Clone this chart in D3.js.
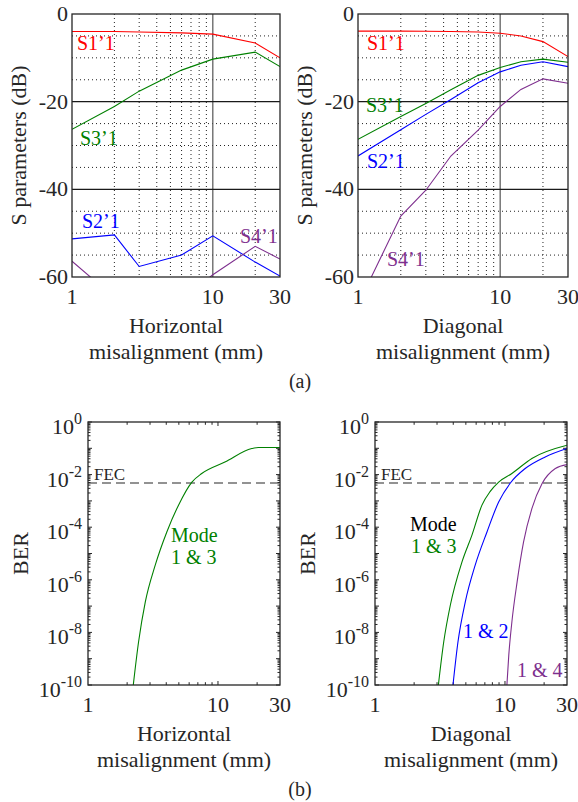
<!DOCTYPE html>
<html lang="en">
<head>
<meta charset="UTF-8">
<title>S parameters and BER vs misalignment</title>
<style>
    body { margin: 0; background: #fff; }
    svg { display: block; }
    text { font-family: "Liberation Serif", "Times New Roman", serif; fill: #262626; }
</style>
</head>
<body>
<svg id="chart" width="578" height="802"></svg>
<script src="https://cdnjs.cloudflare.com/ajax/libs/d3/7.9.0/d3.min.js"></script>
<script>
    // --- data ---
    // (a) S parameters, horizontal misalignment
    const xHoriz = [1, 2, 3, 6, 10, 20, 30];
    const s11Horiz = [-4.0, -4.0, -4.1, -4.3, -4.6, -6.6, -10.0];
    const s31Horiz = [-26.3, -21.1, -17.6, -12.8, -10.3, -8.7, -12.0];
    const s21Horiz = [-51.3, -50.4, -57.6, -55.0, -50.6, -56.6, -59.8];
    const s41Horiz = [-56.4, -64.7, -66.0, -65.0, -59.5, -53.0, -55.9];

    // (a) S parameters, diagonal misalignment
    const xDiag = [1, 2, 3, 4.5, 7, 10, 14, 20, 30];
    const s11Diag = [-3.9, -3.9, -3.95, -4.0, -4.1, -4.4, -5.0, -6.3, -9.7];
    const s31Diag = [-28.6, -23.4, -20.4, -17.3, -14.0, -12.2, -10.9, -10.3, -11.0];
    const s21Diag = [-32.4, -26.4, -22.9, -19.5, -15.7, -13.2, -11.7, -10.9, -12.0];
    const s41Diag = [-66.3, -46.1, -40.2, -32.4, -26.5, -21.1, -17.2, -14.8, -15.8];

    // (b) BER, horizontal misalignment (mode 1 & 3)
    const berHorizX = [2.2, 2.45, 2.76, 3.29, 4.04, 4.97, 6.3, 7.5, 11.3, 18.2, 20.4, 30];
    const berHoriz13 = [5.5e-11, 4.4e-9, 1.45e-7, 3.6e-6, 6.6e-5, 6.9e-4, 5.2e-3, 1.1e-2, 3.0e-2, 9.8e-2, 0.107, 0.107];

    // (b) BER, diagonal misalignment
    const berDiag13X = [3.03, 3.38, 3.8, 4.67, 5.57, 6.65, 7.7, 8.94, 11.3, 16.1, 30];
    const berDiag13 = [5.4e-11, 4.4e-9, 1.1e-7, 4.8e-6, 5.0e-5, 6.9e-4, 2.3e-3, 5.2e-3, 1.1e-2, 4.1e-2, 0.13];
    const berDiag12X = [3.93, 4.35, 4.95, 5.9, 7.27, 8.94, 11, 14.3, 20.4, 30];
    const berDiag12 = [5.5e-11, 4.4e-9, 1.45e-7, 3.6e-6, 6.6e-5, 9.1e-4, 4.8e-3, 1.7e-2, 4.7e-2, 9.8e-2];
    const berDiag14X = [10.3, 10.7, 11.3, 12.4, 13.9, 16.1, 19.3, 24.4, 30];
    const berDiag14 = [7e-11, 1.4e-9, 2.5e-8, 8.3e-7, 2.75e-5, 5.1e-4, 4.6e-3, 1.7e-2, 2.4e-2];

    const fecLimit = 4.8e-3;

    const xTicks = [1, 10, 30];
    const xMinor = [2, 3, 4, 5, 6, 7, 8, 9, 20];
    const dbTicks = [0, -20, -40, -60];
    const dbMinor = [-5, -10, -15, -25, -30, -35, -45, -50, -55];
    const berTicks = [1, 1e-2, 1e-4, 1e-6, 1e-8, 1e-10];

    const RED = "#ff0000", GREEN = "#008000", BLUE = "#0000ff", PURPLE = "#7e2f8e";
    const FONT = 22;

    const svg = d3.select("#chart");
    let clipId = 0;

    function makeFrame(box) {
        const g = svg.append("g");
        const x = d3.scaleLog().domain([1, 30]).range([box.left, box.right]);
        const id = "clip" + (clipId++);
        svg.append("clipPath").attr("id", id)
            .append("rect")
            .attr("x", box.left).attr("y", box.top)
            .attr("width", box.right - box.left).attr("height", box.bottom - box.top);
        return { g, x, clip: "url(#" + id + ")" };
    }

    function xLabels(g, x, box, title) {
        g.selectAll(".xt").data(xTicks).enter().append("text")
            .attr("x", d => x(d)).attr("y", box.bottom + 27)
            .attr("text-anchor", "middle").attr("font-size", FONT)
            .text(d => d);
        g.append("text").attr("x", (box.left + box.right) / 2).attr("y", box.bottom + 56)
            .attr("text-anchor", "middle").attr("font-size", FONT).text(title);
        g.append("text").attr("x", (box.left + box.right) / 2).attr("y", box.bottom + 82)
            .attr("text-anchor", "middle").attr("font-size", FONT).text("misalignment (mm)");
    }

    function drawLabels(g, box, labels) {
        labels.forEach(l => {
            g.append("text").attr("x", box.left + l.dx).attr("y", box.top + l.dy)
                .attr("font-size", l.size || 20).style("fill", l.color).text(l.text);
        });
    }

    function sPanel(box, xs, series, title, labels) {
        const { g, x, clip } = makeFrame(box);
        const y = d3.scaleLinear().domain([-60, 0]).range([box.bottom, box.top]);

        // minor dotted grid
        g.selectAll(".vminor").data(xMinor).enter().append("line")
            .attr("x1", d => x(d)).attr("x2", d => x(d))
            .attr("y1", box.top).attr("y2", box.bottom)
            .attr("stroke", "#222").attr("stroke-width", 1).attr("stroke-dasharray", "1,3");
        g.selectAll(".hminor").data(dbMinor).enter().append("line")
            .attr("x1", box.left).attr("x2", box.right)
            .attr("y1", d => y(d)).attr("y2", d => y(d))
            .attr("stroke", "#222").attr("stroke-width", 1).attr("stroke-dasharray", "1,3");
        // major grid
        g.append("line").attr("x1", x(10)).attr("x2", x(10))
            .attr("y1", box.top).attr("y2", box.bottom)
            .attr("stroke", "#555").attr("stroke-width", 1.2);
        g.selectAll(".hmajor").data([-20, -40]).enter().append("line")
            .attr("x1", box.left).attr("x2", box.right)
            .attr("y1", d => y(d)).attr("y2", d => y(d))
            .attr("stroke", "#1a1a1a").attr("stroke-width", 1.1);

        const line = d3.line().x((d, i) => x(xs[i])).y(d => y(d));
        series.forEach(s => {
            g.append("path").datum(s.values)
                .attr("clip-path", clip)
                .attr("fill", "none").attr("stroke", s.color).attr("stroke-width", 1.1)
                .attr("d", line);
        });

        g.append("rect").attr("x", box.left).attr("y", box.top)
            .attr("width", box.right - box.left).attr("height", box.bottom - box.top)
            .attr("fill", "none").attr("stroke", "#262626").attr("stroke-width", 1.3);

        g.selectAll(".yt").data(dbTicks).enter().append("text")
            .attr("x", box.left - 4).attr("y", d => y(d) + 7)
            .attr("text-anchor", "end").attr("font-size", FONT)
            .text(d => d);
        g.append("text")
            .attr("transform", `translate(${box.left - 46},${(box.top + box.bottom) / 2}) rotate(-90)`)
            .attr("text-anchor", "middle").attr("font-size", FONT)
            .text("S parameters (dB)");
        xLabels(g, x, box, title);
        drawLabels(g, box, labels);
    }

    function berPanel(box, series, title, labels) {
        const { g, x, clip } = makeFrame(box);
        const y = d3.scaleLog().domain([1e-10, 1]).range([box.bottom, box.top]);

        // ticks on all four sides, pointing in
        const yMinor = [];
        for (let e = -10; e < 0; e++) for (let m = 2; m <= 9; m++) yMinor.push(m * Math.pow(10, e));
        const yMajor = d3.range(-10, 1).map(e => Math.pow(10, e));
        const tk = g.append("g").attr("stroke", "#262626").attr("stroke-width", 1);
        [[yMajor, 4], [yMinor, 2.5]].forEach(([vals, len]) => {
            tk.selectAll(null).data(vals).enter().append("line")
                .attr("x1", box.left).attr("x2", box.left + len)
                .attr("y1", d => y(d)).attr("y2", d => y(d));
            tk.selectAll(null).data(vals).enter().append("line")
                .attr("x1", box.right).attr("x2", box.right - len)
                .attr("y1", d => y(d)).attr("y2", d => y(d));
        });
        [[[10], 4], [xMinor, 2.8]].forEach(([vals, len]) => {
            tk.selectAll(null).data(vals).enter().append("line")
                .attr("x1", d => x(d)).attr("x2", d => x(d))
                .attr("y1", box.bottom).attr("y2", box.bottom - len);
            tk.selectAll(null).data(vals).enter().append("line")
                .attr("x1", d => x(d)).attr("x2", d => x(d))
                .attr("y1", box.top).attr("y2", box.top + len);
        });

        // FEC limit
        g.append("line").attr("x1", box.left).attr("x2", box.right)
            .attr("y1", y(fecLimit)).attr("y2", y(fecLimit))
            .attr("stroke", "#262626").attr("stroke-width", 1.1).attr("stroke-dasharray", "9,5");

        series.forEach(s => {
            const line = d3.line().curve(d3.curveMonotoneX)
                .x((d, i) => x(s.x[i])).y(d => y(d));
            g.append("path").datum(s.values)
                .attr("clip-path", clip)
                .attr("fill", "none").attr("stroke", s.color).attr("stroke-width", 1.1)
                .attr("d", line);
        });

        g.append("rect").attr("x", box.left).attr("y", box.top)
            .attr("width", box.right - box.left).attr("height", box.bottom - box.top)
            .attr("fill", "none").attr("stroke", "#262626").attr("stroke-width", 1.3);

        const yt = g.selectAll(".yt").data(berTicks).enter().append("text")
            .attr("x", box.left - 6).attr("y", d => y(d) + 12)
            .attr("text-anchor", "end").attr("font-size", FONT);
        yt.append("tspan").text("10");
        yt.append("tspan").attr("dy", -10).attr("font-size", 16)
            .text(d => Math.round(Math.log10(d)));

        g.append("text")
            .attr("transform", `translate(${box.left - 60},${(box.top + box.bottom) / 2}) rotate(-90)`)
            .attr("text-anchor", "middle").attr("font-size", FONT)
            .text("BER");
        xLabels(g, x, box, title);

        g.append("text").attr("x", box.left + 6).attr("y", box.top + 58)
            .attr("font-size", 17).text("FEC");
        drawLabels(g, box, labels);
    }

    sPanel({ left: 72, right: 280, top: 14, bottom: 277 }, xHoriz, [
        { values: s11Horiz, color: RED },
        { values: s31Horiz, color: GREEN },
        { values: s21Horiz, color: BLUE },
        { values: s41Horiz, color: PURPLE }
    ], "Horizontal", [
        { text: "S1\u20191", dx: 5, dy: 36, color: RED },
        { text: "S3\u20191", dx: 8, dy: 131, color: GREEN },
        { text: "S2\u20191", dx: 10, dy: 214, color: BLUE },
        { text: "S4\u20191", dx: 168, dy: 229, color: PURPLE }
    ]);

    sPanel({ left: 358, right: 568, top: 14, bottom: 277 }, xDiag, [
        { values: s11Diag, color: RED },
        { values: s31Diag, color: GREEN },
        { values: s21Diag, color: BLUE },
        { values: s41Diag, color: PURPLE }
    ], "Diagonal", [
        { text: "S1\u20191", dx: 9, dy: 36, color: RED },
        { text: "S3\u20191", dx: 8, dy: 98, color: GREEN },
        { text: "S2\u20191", dx: 9, dy: 154, color: BLUE },
        { text: "S4\u20191", dx: 29, dy: 252, color: PURPLE }
    ]);

    berPanel({ left: 88, right: 280, top: 422, bottom: 685 }, [
        { x: berHorizX, values: berHoriz13, color: GREEN }
    ], "Horizontal", [
        { text: "Mode", dx: 83, dy: 120, color: GREEN },
        { text: "1 & 3", dx: 83, dy: 142, color: GREEN }
    ]);

    berPanel({ left: 375, right: 567, top: 422, bottom: 685 }, [
        { x: berDiag13X, values: berDiag13, color: GREEN },
        { x: berDiag12X, values: berDiag12, color: BLUE },
        { x: berDiag14X, values: berDiag14, color: PURPLE }
    ], "Diagonal", [
        { text: "Mode", dx: 35, dy: 109, color: "#000" },
        { text: "1 & 3", dx: 36, dy: 131, color: GREEN },
        { text: "1 & 2", dx: 88, dy: 216, color: BLUE },
        { text: "1 & 4", dx: 142, dy: 255, color: PURPLE }
    ]);

    svg.append("text").attr("x", 300).attr("y", 388).attr("text-anchor", "middle")
        .attr("font-size", 20).text("(a)");
    svg.append("text").attr("x", 300).attr("y", 796).attr("text-anchor", "middle")
        .attr("font-size", 20).text("(b)");
</script>
</body>
</html>
